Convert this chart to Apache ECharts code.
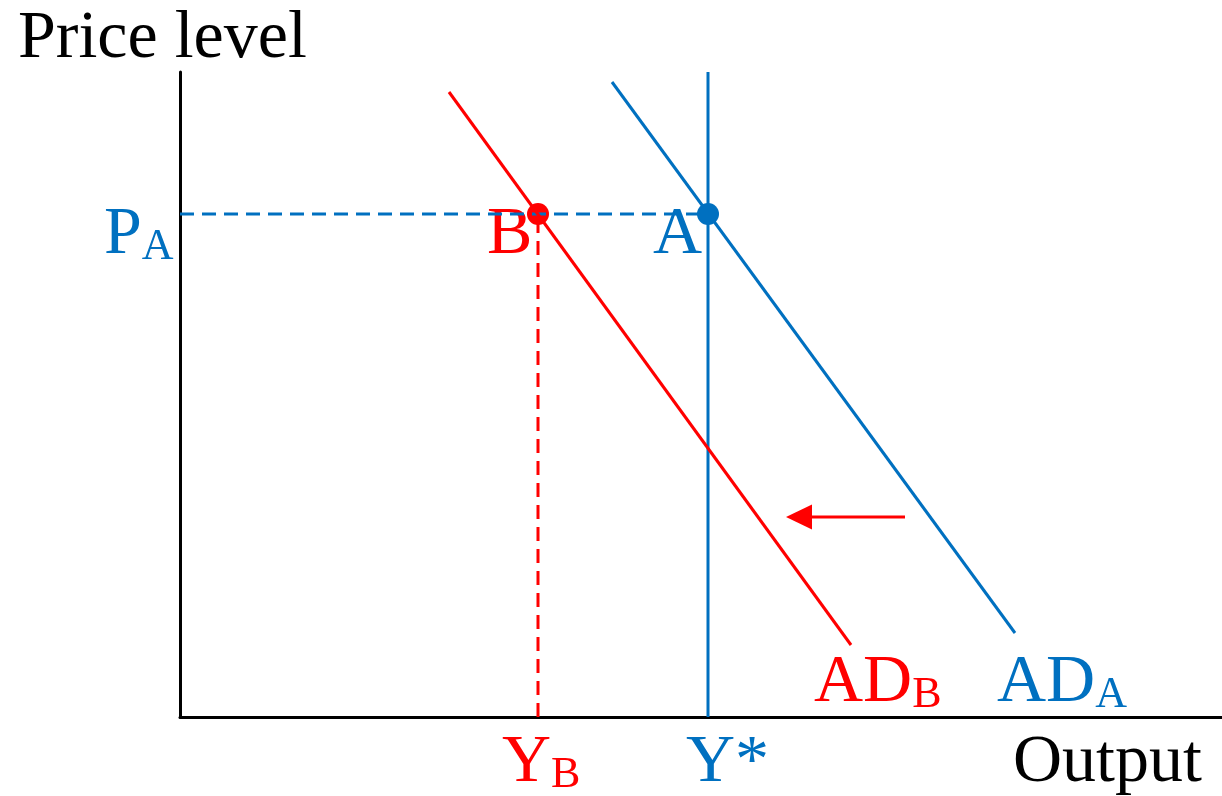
<!DOCTYPE html>
<html lang="en">
<head>
    <meta charset="UTF-8">
    <title>AD shift</title>
    <script src="https://cdn.jsdelivr.net/npm/echarts@6/dist/echarts.min.js"></script>
    <style>
        html, body {margin: 0; padding: 0; background: #fff;}
    </style>
</head>
<body>

<div id="main" style="width: 1222px;height:796px;"></div>

<script>
    var BLUE = '#0070C0';
    var RED = '#FF0000';
    var SERIF = '"Liberation Serif", "Times New Roman", serif';

    // curves (output, price level)
    var adA = [[432, 635], [835, 84]];
    var adB = [[269, 625], [671, 72]];
    var yStar = 528;
    var yB = 358;
    var pA = 503;
    var pointA = [528, 503];
    var pointB = [358, 503];
    var arrowFrom = [725, 200];
    var arrowTip = [619, 200];

    // text labels: [text, x, y, colour]
    var labels = [
        ['{m|Price level}', -162, 678, '#000'],
        ['{m|Output}', 833, -46, '#000'],
        ['{m|P}{s|A}', -76, 482, BLUE],
        ['{m|B}', 307, 482, RED],
        ['{m|A}', 473, 482, BLUE],
        ['{m|Y}{s|B}', 322, -46, RED],
        ['{m|Y*}', 506, -46, BLUE],
        ['{m|AD}{s|B}', 634, 34, RED],
        ['{m|AD}{s|A}', 817, 34, BLUE]
    ];

    var myChart = echarts.init(document.getElementById('main'));

    function plain(name, data, color, type) {
        return {
            name: name,
            type: 'line',
            data: data,
            showSymbol: false,
            silent: true,
            clip: false,
            lineStyle: {color: color, width: 3, type: type || 'solid'}
        };
    }

    var option = {
        backgroundColor: '#fff',
        animation: false,
        grid: {left: 180, right: 0, top: 72, bottom: 79},
        xAxis: {
            type: 'value', min: 0, max: 1042,
            axisLine: {show: true, onZero: false, lineStyle: {color: '#000', width: 3}},
            axisTick: {show: false}, axisLabel: {show: false}, splitLine: {show: false}
        },
        yAxis: {
            type: 'value', min: 0, max: 645,
            axisLine: {show: true, onZero: false, lineStyle: {color: '#000', width: 3}},
            axisTick: {show: false}, axisLabel: {show: false}, splitLine: {show: false}
        },
        series: [
            plain('pA', [[0, pA], pointA], BLUE, [14, 8]),
            plain('yB', [[yB, 0], pointB], RED, [14, 8]),
            plain('Y*', [[yStar, 0], [yStar, 645]], BLUE),
            plain('ADA', adA, BLUE),
            plain('ADB', adB, RED),
            plain('shift', [arrowFrom, arrowTip], RED),
            {
                type: 'scatter',
                silent: true,
                clip: false,
                itemStyle: {opacity: 1},
                data: [
                    {value: pointA, itemStyle: {color: BLUE}, symbolSize: 22},
                    {value: pointB, itemStyle: {color: RED}, symbolSize: 22},
                    {value: arrowTip, itemStyle: {color: RED}, symbol: 'triangle', symbolRotate: 90, symbolSize: [25, 26]}
                ]
            },
            {
                type: 'scatter',
                silent: true,
                clip: false,
                symbolSize: 0,
                itemStyle: {opacity: 1},
                data: labels.map(function (l) {
                    return {
                        value: [l[1], l[2]],
                        label: {
                            show: true,
                            formatter: l[0],
                            position: [0, 0],
                            align: 'left',
                            verticalAlign: 'middle',
                            color: l[3],
                            fontFamily: SERIF,
                            rich: {
                                m: {fontSize: 68, lineHeight: 68, verticalAlign: 'bottom', fontFamily: SERIF},
                                s: {fontSize: 44, lineHeight: 36, verticalAlign: 'bottom', fontFamily: SERIF}
                            }
                        }
                    };
                })
            }
        ]
    };

    myChart.setOption(option);
</script>

</body>
</html>
